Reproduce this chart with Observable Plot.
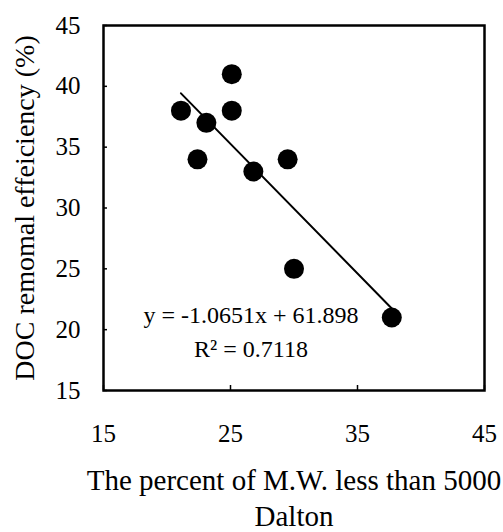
<!DOCTYPE html>
<html>
<head>
<meta charset="utf-8">
<script src="https://cdn.jsdelivr.net/npm/d3@7"></script>
<script src="https://cdn.jsdelivr.net/npm/@observablehq/plot@0.6"></script>
<style>
  html, body { margin: 0; padding: 0; background: #fff; }
</style>
</head>
<body>
<div id="chart"></div>
<script>
// Share of molecular weight below 5000 Da vs. DOC removal efficiency
const mwPercent = [21.1, 22.4, 23.1, 25.1, 25.1, 26.8, 29.5, 30.0, 37.7];
const docRemoval = [38, 34, 37, 41, 38, 33, 34, 25, 21];

// Linear fit reported on the chart
const fitSlope = -1.0651;
const fitIntercept = 61.898;
const fitR2 = 0.7118;

const xTicks = [15, 25, 35, 45];
const yTicks = [15, 20, 25, 30, 35, 40, 45];
const xTitle = "The percent of M.W. less than 5000\nDalton";
const yTitle = "DOC remomal effeiciency (%)";

const points = mwPercent.map((x, i) => ({x, y: docRemoval[i]}));
const [xMin, xMax] = d3.extent(mwPercent);
const fitLine = [xMin, xMax].map(x => ({x, y: fitSlope * x + fitIntercept}));
const fitLabel = `y = ${fitSlope}x + ${fitIntercept}\nR\u00B2 = ${fitR2}`;

const W = 503, H = 532;
const M = {top: 25, right: 19, bottom: 142, left: 103};
const innerW = W - M.left - M.right;
const innerH = H - M.top - M.bottom;

const chart = Plot.plot({
  width: W,
  height: H,
  marginTop: M.top,
  marginRight: M.right,
  marginBottom: M.bottom,
  marginLeft: M.left,
  style: {
    fontFamily: "'Liberation Serif', 'Times New Roman', serif",
    fontSize: "25px",
    color: "#000",
    background: "#fff"
  },
  x: {domain: [15, 45]},
  y: {domain: [15, 45]},
  marks: [
    // short inward ticks along the bottom and left edges
    Plot.ruleX(xTicks, {x: d => d, insetTop: innerH - 5, stroke: "#000", strokeWidth: 1.5}),
    Plot.ruleY(yTicks, {y: d => d, insetRight: innerW - 4, stroke: "#000", strokeWidth: 1.5}),
    Plot.frame({stroke: "#000", strokeWidth: 2.5}),
    Plot.axisX({ticks: xTicks, tickSize: 0, tickPadding: 34, label: null, fontSize: 25}),
    Plot.axisY({ticks: yTicks, tickSize: 0, tickPadding: 23, label: null, fontSize: 25}),
    Plot.line(fitLine, {x: "x", y: "y", stroke: "#000", strokeWidth: 2}),
    Plot.dot(points, {x: "x", y: "y", r: 10, fill: "#000", stroke: "none"}),
    Plot.text([fitLabel], {
      text: d => d, frameAnchor: "bottom", dx: -43, dy: -34,
      lineAnchor: "bottom", lineHeight: 1.4, fontSize: 24, fill: "#000"
    }),
    Plot.text([xTitle], {
      text: d => d, frameAnchor: "bottom", dy: 74, textAnchor: "middle",
      lineAnchor: "top", lineHeight: 1.25, fontSize: 29, fill: "#000"
    }),
    Plot.text([yTitle], {
      text: d => d, frameAnchor: "left", dx: -70, rotate: -90, textAnchor: "middle",
      lineAnchor: "bottom", fontSize: 28, fill: "#000"
    })
  ]
});

document.getElementById("chart").appendChild(chart);
</script>
</body>
</html>
